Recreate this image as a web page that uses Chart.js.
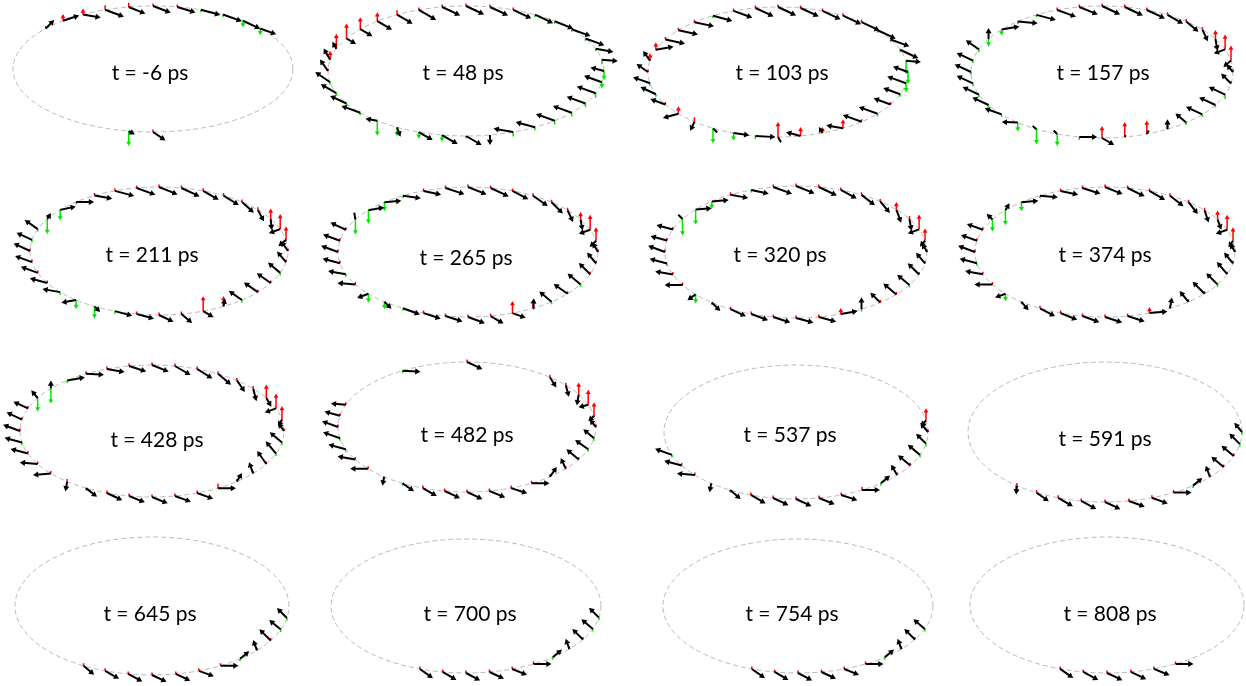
<!DOCTYPE html>
<html>
<head>
<meta charset="utf-8">
<script src="https://cdn.jsdelivr.net/npm/chart.js@4.4.0/dist/chart.umd.min.js"></script>
<style>
  body { margin: 0; background: #fff; }
  #wrap { position: relative; width: 1246px; height: 686px; overflow: hidden; }
  #wrap canvas { position: absolute; }
  .lbl { position: absolute; font-family: Lato, sans-serif; font-size: 21px; color: #000;
         transform: translate(-50%, -50%); white-space: nowrap; }
</style>
</head>
<body>
<div id="wrap"></div>
<script>
// spin snapshots: [site, in-plane angle (deg, screen), in-plane length, mz]
const times = ['-6', '48', '103', '157', '211', '265', '320', '374',
               '428', '482', '537', '591', '645', '700', '754', '808'];

const spins_m6 = [[4,-20,0.85,-0.45],[5,-25,0.95,-0.45],[6,-20,1.0,-0.12],[7,-15,1.0,-0.1],[8,-17,0.95,0.05],
  [9,-21,0.95,0.12],[10,-22,0.9,0.28],[11,-20,1.0,0.3],[12,-10,0.9,0.4],[13,18,0.85,0.45],[14,45,0.6,0.1],
  [26,-30,0.35,-1.0],[27,-34,0.75,0.1]];
const spins_48 = [[0,165,0.7,-0.6],[1,-5,0.8,-0.3],[2,-10,0.9,-0.15],[3,-20,1.0,-0.1],[4,-20,1.0,-0.1],
  [5,-22,1.0,-0.1],[6,-25,1.0,-0.05],[7,-25,1.0,0.05],[8,-25,1.0,0.05],[9,-25,1.0,0.05],[10,-25,1.0,0.05],
  [11,-30,1.0,0.1],[12,-30,0.9,0.3],[13,-30,0.85,0.6],[14,-30,0.7,0.8],[15,-30,0.55,1.0],[16,120,0.4,1.0],
  [17,120,0.65,0.6],[18,125,0.7,0.1],[19,145,0.9,-0.1],[20,150,0.9,-0.1],[21,155,0.9,-0.1],[22,160,1.0,-0.1],
  [23,170,0.6,-1.0],[24,-70,0.5,-0.6],[25,-30,0.8,-0.45],[26,-30,0.9,-0.45],[27,-30,0.9,-0.1],[28,-90,0.5,-0.05],
  [29,170,1.0,-0.3],[30,165,1.0,-0.2],[31,160,1.0,-0.25],[32,160,1.0,-0.25],[33,160,1.0,-0.25],[34,160,1.0,-0.3],
  [35,160,0.95,-0.4]];
const spins_103 = [[0,160,0.8,-0.8],[1,-5,0.75,-0.9],[2,-25,1.0,-0.1],[3,-20,1.0,-0.1],[4,-25,1.0,-0.05],
  [5,-25,1.0,0.05],[6,-25,1.0,0.05],[7,-25,1.0,0.05],[8,-25,1.0,0.05],[9,-25,1.0,0.05],[10,-25,1.0,0.05],
  [11,-20,1.0,0.05],[12,-15,1.0,-0.05],[13,-12,1.0,0.05],[14,-12,1.0,0.05],[15,-12,1.0,0.05],[16,10,0.9,0.5],
  [17,125,0.6,0.5],[18,145,0.7,0.1],[19,160,0.9,-0.1],[20,155,0.85,-0.1],[21,160,0.8,0.1],[22,195,0.8,0.5],
  [23,-115,0.5,0.3],[24,-45,0.3,-1.0],[25,-8,0.8,-0.5],[26,-3,1.0,-0.2],[27,-60,0.3,1.0],[28,165,0.75,0.6],
  [29,120,0.35,0.4],[30,170,0.85,0.6],[31,160,1.0,0.05],[32,160,1.0,-0.05],[33,160,0.9,0.05],[34,160,0.9,-0.1],
  [35,160,1.0,-0.6]];
const spins_157 = [[0,130,0.5,0.1],[1,220,0.5,1.0],[2,200,0.6,1.0],[3,-80,0.6,0.6],[4,-65,0.65,0.1],
  [5,-40,0.8,0.1],[6,-30,0.9,0.05],[7,-25,1.0,0.05],[8,-25,1.0,0.05],[9,-25,1.0,0.05],[10,-22,1.0,0.05],
  [11,-20,1.0,0.05],[12,-15,1.0,-0.05],[13,-5,1.0,-0.05],[14,10,0.9,-0.4],[15,90,0.55,-0.5],[16,145,0.8,-0.1],
  [17,155,0.9,-0.05],[18,155,0.9,-0.1],[19,155,0.9,-0.05],[20,155,0.9,-0.05],[21,155,0.9,-0.1],[22,160,0.9,-0.1],
  [23,178,0.8,-0.6],[24,140,0.25,-1.0],[25,135,0.25,-0.8],[26,0,0.9,-0.2],[27,-30,0.7,0.8],[28,60,0.1,1.0],
  [29,60,0.2,0.9],[30,90,0.5,0.6],[31,140,0.7,-0.1],[32,155,0.9,-0.1],[33,155,0.9,-0.1],[34,155,0.9,-0.3],
  [35,135,0.7,0.05]];
const spins_211 = [[0,125,0.6,0.1],[1,220,0.5,0.9],[2,200,0.6,1.0],[3,-85,0.55,0.7],[4,-62,0.65,0.1],
  [5,-42,0.8,0.1],[6,-32,0.9,0.05],[7,-30,0.9,0.05],[8,-25,1.0,0.1],[9,-22,1.0,0.05],[10,-20,1.0,0.05],
  [11,-15,1.0,0.05],[12,-10,0.9,0.05],[13,0,0.9,-0.1],[14,12,0.8,-0.7],[15,60,0.35,-1.0],[16,145,0.8,-0.1],
  [17,155,0.85,-0.1],[18,155,0.9,0.05],[19,160,0.9,0.1],[20,160,0.9,0.05],[21,165,0.9,0.05],[22,170,0.9,-0.1],
  [23,190,0.75,-0.6],[24,-45,0.4,-0.8],[25,-15,0.9,-0.1],[26,-15,0.9,0.1],[27,-25,0.8,0.1],[28,-40,0.7,0.1],
  [29,-30,0.6,1.0],[30,80,0.4,0.7],[31,145,0.8,-0.1],[32,145,0.85,0.05],[33,145,0.85,0.05],[34,140,0.8,-0.1],
  [35,130,0.7,0.05]];
const spins_265 = [[0,120,0.55,0.1],[1,225,0.45,0.9],[2,200,0.6,1.0],[3,-80,0.55,0.5],[4,-65,0.65,0.1],
  [5,-45,0.8,0.1],[6,-35,0.9,0.05],[7,-28,0.9,0.05],[8,-25,1.0,0.05],[9,-22,1.0,0.05],[10,-18,1.0,0.05],
  [11,-12,0.9,0.05],[12,-8,0.9,-0.1],[13,5,0.85,-0.6],[14,10,0.8,-0.9],[15,100,0.35,-1.0],[16,155,0.85,0.05],
  [17,160,0.9,0.1],[18,160,0.9,0.05],[19,165,0.9,0.05],[20,170,0.9,-0.1],[21,175,0.9,0.05],[22,200,0.6,-0.6],
  [23,-45,0.5,-0.5],[24,-20,0.9,-0.1],[25,-18,0.9,0.05],[26,-18,0.9,0.05],[27,-20,0.9,0.1],[28,-30,0.75,0.1],
  [29,-20,0.7,0.8],[30,85,0.5,0.3],[31,140,0.8,-0.1],[32,145,0.85,0.05],[33,140,0.85,-0.1],[34,135,0.8,0.05],
  [35,130,0.7,0.1]];
const spins_320 = [[0,120,0.5,0.1],[1,230,0.4,0.8],[2,200,0.6,1.0],[3,-80,0.6,0.2],[4,-70,0.7,0.5],
  [5,-50,0.75,0.1],[6,-38,0.85,0.05],[7,-28,0.9,0.05],[8,-25,1.0,0.05],[9,-22,1.0,0.05],[10,-20,1.0,0.1],
  [11,-12,0.9,-0.1],[12,-10,0.9,0.05],[13,5,0.85,-0.5],[14,5,0.8,-1.0],[15,135,0.3,-1.1],[16,165,0.85,0.1],
  [17,165,0.85,0.1],[18,160,0.9,0.1],[19,165,0.9,-0.1],[20,170,0.9,0.05],[21,180,0.9,0.05],[22,215,0.5,-0.6],
  [23,-45,0.6,-0.1],[24,-25,0.85,0.05],[25,-20,0.9,0.05],[26,-18,0.9,0.05],[27,-15,0.9,0.05],[28,-15,0.9,0.1],
  [29,10,0.85,0.4],[30,90,0.6,-0.1],[31,135,0.7,0.05],[32,140,0.85,0.05],[33,140,0.8,-0.1],[34,135,0.8,0.05],
  [35,130,0.7,0.1]];
const spins_374 = [[0,120,0.5,0.1],[1,235,0.4,0.9],[2,200,0.6,1.0],[3,-70,0.55,0.6],[4,-72,0.65,0.1],
  [5,-52,0.75,0.1],[6,-38,0.85,0.05],[7,-30,0.9,0.05],[8,-26,0.95,0.05],[9,-22,0.95,0.1],[10,-18,0.95,0.05],
  [11,-12,0.9,0.05],[12,-5,0.9,-0.1],[13,5,0.85,-0.6],[14,60,0.4,-1.0],[15,135,0.4,-0.8],[16,160,0.85,0.1],
  [17,160,0.85,0.05],[18,160,0.9,0.1],[19,165,0.9,-0.1],[20,170,0.9,0.05],[21,180,0.9,0.05],[22,200,0.55,-0.5],
  [23,-50,0.55,-0.1],[24,-28,0.85,0.05],[25,-22,0.9,0.05],[26,-20,0.9,0.05],[27,-18,0.9,0.05],[28,-18,0.9,0.1],
  [29,5,0.9,0.4],[30,80,0.55,0.05],[31,130,0.7,0.05],[32,135,0.85,0.05],[33,135,0.8,-0.1],[34,130,0.8,0.05],
  [35,130,0.7,0.1]];
const spins_428 = [[0,125,0.5,0.1],[1,240,0.4,0.9],[2,200,0.6,1.0],[3,-60,0.5,0.9],[4,-75,0.65,0.1],
  [5,-55,0.7,0.1],[6,-40,0.85,0.05],[7,-32,0.9,0.1],[8,-30,0.9,0.05],[9,-22,0.9,0.1],[10,-18,0.9,0.05],
  [11,-10,0.9,0.05],[12,-3,0.9,0.05],[13,10,0.9,-0.1],[14,90,0.4,-1.0],[15,130,0.5,-0.9],[16,155,0.8,0.05],
  [17,155,0.85,0.1],[18,160,0.9,0.05],[19,165,0.9,-0.1],[20,165,0.9,0.05],[21,175,0.9,0.1],[22,185,0.9,0.05],
  [23,-100,0.5,0.05],[24,-38,0.7,-0.1],[25,-25,0.85,0.05],[26,-22,0.85,0.05],[27,-22,0.85,0.1],[28,-20,0.85,0.05],
  [29,-20,0.85,0.05],[30,0,0.9,0.3],[31,60,0.5,0.05],[32,110,0.6,0.05],[33,125,0.8,0.05],[34,130,0.8,-0.1],
  [35,140,0.8,-0.1]];
const spins_482 = [[0,130,0.5,0.1],[1,225,0.4,0.9],[2,195,0.5,1.0],[3,-100,0.55,0.8],[4,-75,0.6,0.1],
  [5,-58,0.6,0.1],[9,-25,0.85,0.1],[12,-3,0.9,-0.1],[16,175,0.75,0.1],[17,165,0.8,0.1],[18,160,0.85,0.05],
  [19,160,0.9,-0.1],[20,165,0.9,-0.1],[21,170,0.9,0.1],[22,180,0.9,0.05],[23,-100,0.45,-0.1],[24,-35,0.7,-0.1],
  [25,-30,0.8,0.05],[26,-25,0.85,0.05],[27,-25,0.85,0.1],[28,-22,0.85,0.1],[29,-18,0.85,0.05],[30,0,0.9,0.15],
  [31,55,0.6,0.05],[32,115,0.6,0.05],[33,140,0.8,0.05],[34,145,0.8,-0.1],[35,140,0.7,-0.1]];
const spins_537 = [[0,130,0.6,0.1],[1,230,0.4,0.8],[20,160,0.9,-0.1],[21,165,0.9,0.1],[22,175,0.9,0.1],
  [23,-100,0.45,-0.15],[24,-40,0.7,-0.1],[25,-30,0.85,0.05],[26,-25,0.85,0.1],[27,-25,0.85,0.1],
  [28,-22,0.85,0.1],[29,-18,0.85,0.1],[30,0,0.9,0.2],[31,40,0.6,-0.1],[32,120,0.6,0.1],[33,140,0.8,0.1],
  [34,140,0.8,-0.1],[35,135,0.7,-0.1]];
const spins_591 = [[0,130,0.6,-0.1],[23,-95,0.45,0.05],[24,-35,0.75,0.05],[25,-30,0.85,0.05],[26,-28,0.85,0.1],
  [27,-25,0.85,0.1],[28,-20,0.85,0.1],[29,-20,0.85,0.1],[30,0,0.9,0.1],[31,40,0.6,-0.1],[32,110,0.6,0.1],
  [33,140,0.8,0.1],[34,140,0.8,0.05],[35,135,0.75,-0.1]];
const spins_645 = [[24,-40,0.7,0.05],[25,-30,0.8,0.05],[26,-28,0.8,0.1],[27,-25,0.8,0.1],[28,-25,0.8,0.1],
  [29,-20,0.8,0.05],[30,0,0.9,0.1],[31,40,0.6,-0.1],[32,110,0.55,0.1],[33,135,0.8,0.1],[34,140,0.75,-0.1],
  [35,135,0.7,-0.1]];
const spins_700 = [[25,-35,0.8,0.05],[26,-30,0.8,0.1],[27,-28,0.8,0.1],[28,-25,0.8,0.1],[29,-22,0.8,0.05],
  [30,0,0.9,0.1],[31,40,0.6,-0.1],[32,110,0.55,0.1],[33,135,0.75,0.1],[34,140,0.75,-0.1],[35,135,0.7,-0.1]];
const spins_754 = [[25,-35,0.8,0.05],[26,-30,0.8,0.1],[27,-28,0.8,0.1],[28,-25,0.8,0.1],[29,-22,0.8,0.05],
  [30,0,0.9,0.1],[31,40,0.6,-0.1],[32,110,0.55,0.1],[33,135,0.75,0.1],[34,140,0.75,-0.1]];
const spins_808 = [[25,-35,0.8,0.05],[26,-28,0.85,0.05],[27,-25,0.85,0.1],[28,-25,0.85,0.1],[29,-22,0.85,0.1],
  [30,0,0.9,0.15]];

const snapshots = [spins_m6, spins_48, spins_103, spins_157, spins_211, spins_265, spins_320, spins_374,
                   spins_428, spins_482, spins_537, spins_591, spins_645, spins_700, spins_754, spins_808];

// layout: ring centre / radii and label centre, page pixels
const rings = [
  [153,69,140,63], [466,71,138,65], [778,72,130,65], [1102,72,131,66],
  [159,251,129,64], [468,252,130,65], [796,252,131,66], [1105,252,130,65],
  [152,431,132,66], [467,427,129,65], [796,432,132,67], [1105,432,137,70],
  [152,606,137,69], [466,606,135,67], [798,606,135,67], [1107,605,137,68]
];
const labels = [
  [150,71], [463,71], [782,71], [1103,71],
  [152,253], [466,256], [780,253], [1105,253],
  [157,438], [467,433], [790,433], [1105,437],
  [150,612], [470,612], [792,612], [1110,612]
];

const N_SITES = 36;
const XY_UNIT = 20;   // px for in-plane length 1
const Z_UNIT = 15;    // px for mz = 1
const PAD = 14;
const rad = d => d * Math.PI / 180;

function pushArrow(out, x0, y0, dx, dy, head) {
  const L = Math.hypot(dx, dy);
  if (L < 0.5) return;
  const ux = dx / L, uy = dy / L;
  if (L > head * 2) {
    out.push({x: x0, y: y0});
    out.push({x: x0 + dx - ux * head, y: y0 + dy - uy * head, head: true,
              rot: 90 - Math.atan2(uy, ux) * 180 / Math.PI});
  } else {
    out.push({x: x0, y: y0}, {x: x0 + dx, y: y0 + dy});
  }
  out.push({x: null, y: null});
}

function arrowSet(data, color, width, head) {
  return {
    data: data, showLine: true, spanGaps: false, clip: false,
    borderColor: color, borderWidth: width,
    pointStyle: 'triangle',
    pointRadius: ctx => (ctx.raw && ctx.raw.head) ? head : 0,
    pointRotation: ctx => (ctx.raw && ctx.raw.rot) || 0,
    pointBackgroundColor: color, pointBorderColor: color, pointBorderWidth: 0,
    pointHoverRadius: 0
  };
}

const wrap = document.getElementById('wrap');

snapshots.forEach((spins, i) => {
  const col = i % 4, row = Math.floor(i / 4);
  const [cx, cy, rx, ry] = rings[i];
  const L = Math.round(col * 311.5) - PAD, T = Math.round(row * 171.5) - PAD;
  const W = 312 + 2 * PAD, H = 172 + 2 * PAD;

  const cv = document.createElement('canvas');
  cv.width = W; cv.height = H;
  cv.style.left = L + 'px'; cv.style.top = T + 'px';
  cv.style.width = W + 'px'; cv.style.height = H + 'px';
  wrap.appendChild(cv);

  const ring = [];
  for (let a = 0; a <= 360; a += 2) ring.push({x: rx * Math.cos(rad(a)), y: ry * Math.sin(rad(a))});

  const black = [], red = [], green = [];
  spins.forEach(([k, ang, len, mz]) => {
    const phi = rad(k * 360 / N_SITES);
    const bx = rx * Math.cos(phi), by = ry * Math.sin(phi);
    let z = mz * Z_UNIT;
    if (Math.abs(z) < 2.5) z = (mz < 0 ? -2.5 : 2.5);
    pushArrow(mz < 0 ? green : red, bx, by, 0, z, 2.8);
    pushArrow(black, bx, by, len * XY_UNIT * Math.cos(rad(ang)), len * XY_UNIT * Math.sin(rad(ang)), 3.5);
  });

  new Chart(cv, {
    type: 'scatter',
    data: {
      datasets: [
        arrowSet(black, '#000000', 2, 3.5),
        arrowSet(red, '#ff0000', 1.5, 2.8),
        arrowSet(green, '#00e600', 1.5, 2.8),
        {data: ring, showLine: true, borderColor: '#b9b9b9', borderWidth: 1, borderDash: [5, 3],
         pointRadius: 0, clip: false}
      ]
    },
    options: {
      responsive: false, animation: false, devicePixelRatio: 1, events: [],
      layout: {padding: 0},
      plugins: {legend: {display: false}, tooltip: {enabled: false}},
      scales: {
        x: {type: 'linear', min: L - cx, max: L + W - cx, display: false},
        y: {type: 'linear', min: cy - (T + H), max: cy - T, display: false}
      }
    }
  });

  const lb = document.createElement('div');
  lb.className = 'lbl';
  lb.style.left = labels[i][0] + 'px';
  lb.style.top = labels[i][1] + 'px';
  lb.textContent = 't = ' + times[i] + ' ps';
  wrap.appendChild(lb);
});
</script>
</body>
</html>
